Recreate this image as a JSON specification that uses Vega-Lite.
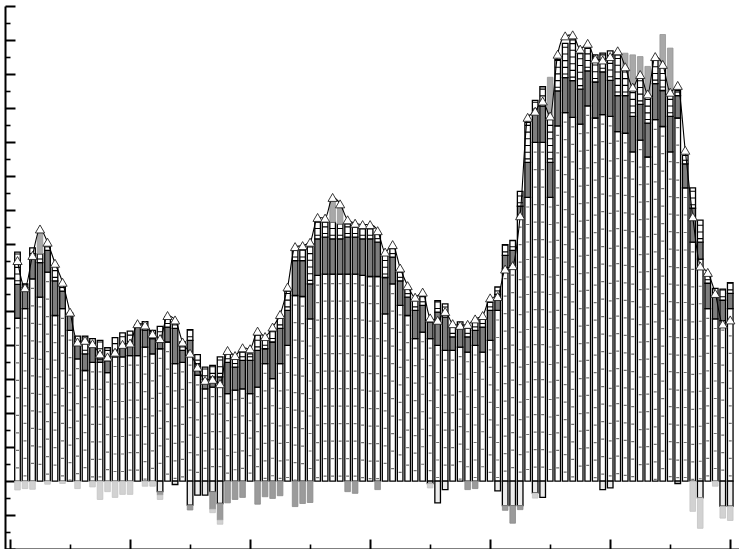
{
  "$schema": "https://vega.github.io/schema/vega-lite/v6.json",
  "width": 734,
  "height": 543,
  "autosize": {"type": "none"},
  "padding": {"left": 5, "top": 6, "right": 0, "bottom": 0},
  "background": "white",
  "config": {"view": {"stroke": null}},
  "data": {"values": [
    {"t":1,"b":4.8,"g":5.8,"w":6.75,"d":6.5,"nb":0,"ng":0,"nl":-0.26},
    {"t":2,"b":5.08,"g":5.7,"w":5.81,"d":5.7,"nb":0,"ng":0,"nl":-0.22},
    {"t":3,"b":5.96,"g":6.6,"w":6.87,"d":6.65,"nb":0,"ng":0,"nl":-0.24},
    {"t":4,"b":5.42,"g":6.44,"w":6.7,"p":7.4,"d":7.43},
    {"t":5,"b":6.16,"g":6.8,"w":6.94,"d":7.04,"nb":0,"ng":0,"nl":-0.09},
    {"t":6,"b":4.88,"g":5.9,"w":6.35,"d":6.42},
    {"t":7,"b":5.08,"g":5.6,"w":5.8,"d":5.86,"nb":0,"ng":0,"nl":-0.07},
    {"t":8,"b":4.44,"g":4.9,"w":4.95,"d":4.98},
    {"t":9,"b":3.6,"g":4.0,"w":4.27,"d":4.1,"nb":0,"ng":0,"nl":-0.22},
    {"t":10,"b":3.26,"g":3.75,"w":4.27,"d":4.15},
    {"t":11,"b":3.5,"g":3.95,"w":4.2,"d":4.05,"nb":0,"ng":0,"nl":-0.17},
    {"t":12,"b":3.5,"g":3.6,"w":4.15,"d":3.75,"nb":0,"ng":0,"nl":-0.54},
    {"t":13,"b":3.2,"g":3.55,"w":3.93,"d":3.66,"nb":0,"ng":0,"nl":-0.31},
    {"t":14,"b":3.66,"g":3.75,"w":4.23,"d":3.8,"nb":0,"ng":0,"nl":-0.48},
    {"t":15,"b":3.66,"g":3.95,"w":4.37,"d":4.03,"nb":0,"ng":0,"nl":-0.39},
    {"t":16,"b":3.7,"g":4.0,"w":4.42,"d":4.07,"nb":0,"ng":0,"nl":-0.39},
    {"t":17,"b":3.7,"g":4.54,"w":4.6,"d":4.64},
    {"t":18,"b":3.95,"g":4.45,"w":4.7,"d":4.6,"nb":0,"ng":0,"nl":-0.15},
    {"t":19,"b":3.75,"g":4.2,"w":4.44,"d":4.34,"nb":0,"ng":0,"nl":-0.15},
    {"t":20,"b":3.9,"g":4.1,"w":4.56,"d":4.2,"nb":-0.31,"ng":-0.41,"nl":-0.54},
    {"t":21,"b":4.1,"g":4.54,"w":4.85,"d":4.88},
    {"t":22,"b":3.46,"g":4.5,"w":4.7,"d":4.75,"nb":-0.1,"ng":-0.1,"nl":-0.1},
    {"t":23,"b":3.5,"g":3.85,"w":4.1,"d":4.1},
    {"t":24,"b":3.7,"g":4.15,"w":4.46,"d":3.77,"nb":-0.71,"ng":-0.85,"nl":-0.85},
    {"t":25,"b":3.12,"g":3.46,"w":3.73,"d":3.36,"nb":-0.41,"ng":-0.41,"nl":-0.41},
    {"t":26,"b":2.72,"g":3.0,"w":3.36,"d":2.97,"nb":-0.41,"ng":-0.41,"nl":-0.41},
    {"t":27,"b":2.77,"g":3.07,"w":3.41,"d":3.0,"nb":-0.31,"ng":-0.83,"nl":-0.93},
    {"t":28,"b":2.77,"g":3.07,"w":3.66,"d":2.87,"nb":-0.66,"ng":-1.15,"nl":-1.27},
    {"t":29,"b":2.58,"g":3.5,"w":3.8,"d":3.85,"nb":0,"ng":-0.64,"nl":-0.64},
    {"t":30,"b":2.68,"g":3.36,"w":3.6,"d":3.7,"nb":0,"ng":-0.54,"nl":-0.54},
    {"t":31,"b":2.72,"g":3.56,"w":3.8,"d":3.93,"nb":0,"ng":-0.48,"nl":-0.48},
    {"t":32,"b":2.58,"g":3.56,"w":3.75,"d":3.9},
    {"t":33,"b":2.77,"g":3.85,"w":4.3,"d":4.42,"nb":0,"ng":-0.68,"nl":-0.68},
    {"t":34,"b":3.46,"g":3.9,"w":4.2,"d":4.26,"nb":0,"ng":-0.46,"nl":-0.46},
    {"t":35,"b":3.02,"g":4.1,"w":4.45,"d":4.54,"nb":0,"ng":-0.51,"nl":-0.51},
    {"t":36,"b":3.46,"g":4.5,"w":4.8,"d":4.91,"nb":0,"ng":-0.43,"nl":-0.43},
    {"t":37,"b":4.0,"g":5.03,"w":5.6,"d":5.72},
    {"t":38,"b":5.47,"g":6.5,"w":6.8,"d":6.91,"nb":0,"ng":-0.75,"nl":-0.75},
    {"t":39,"b":5.44,"g":6.5,"w":6.85,"d":6.94,"nb":0,"ng":-0.66,"nl":-0.66},
    {"t":40,"b":4.78,"g":5.81,"w":7.0,"d":7.04,"nb":0,"ng":-0.63,"nl":-0.63},
    {"t":41,"b":6.06,"g":7.14,"w":7.63,"d":7.77},
    {"t":42,"b":6.1,"g":7.19,"w":7.63,"d":7.75},
    {"t":43,"b":6.1,"g":7.14,"w":7.63,"p":8.25,"d":8.36},
    {"t":44,"b":6.1,"g":7.14,"w":7.58,"p":8.07,"d":8.17},
    {"t":45,"b":6.1,"g":7.19,"w":7.58,"d":7.7,"nb":0,"ng":-0.31,"nl":-0.31},
    {"t":46,"b":6.1,"g":7.19,"w":7.48,"d":7.6,"nb":0,"ng":-0.36,"nl":-0.36},
    {"t":47,"b":6.06,"g":7.14,"w":7.43,"d":7.56},
    {"t":48,"b":6.03,"g":7.14,"w":7.43,"d":7.56},
    {"t":49,"b":6.03,"g":7.04,"w":7.28,"d":7.38,"nb":0,"ng":-0.25,"nl":-0.25},
    {"t":50,"b":4.93,"g":6.0,"w":6.65,"d":6.75},
    {"t":51,"b":5.81,"g":6.6,"w":6.85,"d":6.97},
    {"t":52,"b":5.18,"g":5.9,"w":6.16,"d":6.28},
    {"t":53,"b":4.88,"g":5.42,"w":5.67,"d":5.76},
    {"t":54,"b":4.2,"g":5.03,"w":5.32,"d":5.42},
    {"t":55,"b":4.39,"g":5.18,"w":5.44,"d":5.57},
    {"t":56,"b":4.2,"g":4.69,"w":4.75,"d":4.81,"nb":-0.07,"ng":-0.07,"nl":-0.2},
    {"t":57,"b":4.0,"g":4.98,"w":5.32,"d":4.74,"nb":-0.64,"ng":-0.64,"nl":-0.64},
    {"t":58,"b":3.85,"g":4.83,"w":5.22,"d":5.0,"nb":-0.25,"ng":-0.25,"nl":-0.25},
    {"t":59,"b":3.85,"g":4.25,"w":4.55,"d":4.64},
    {"t":60,"b":3.95,"g":4.5,"w":4.69,"d":4.59},
    {"t":61,"b":3.8,"g":4.25,"w":4.5,"d":4.62,"nb":0,"ng":-0.25,"nl":-0.25},
    {"t":62,"b":4.0,"g":4.44,"w":4.69,"d":4.78,"nb":0,"ng":-0.22,"nl":-0.22},
    {"t":63,"b":3.8,"g":4.54,"w":4.78,"d":4.88},
    {"t":64,"b":4.15,"g":5.03,"w":5.27,"d":5.4},
    {"t":65,"b":5.03,"g":5.5,"w":5.72,"d":5.44,"nb":-0.29,"ng":-0.29,"nl":-0.29},
    {"t":66,"b":6.25,"g":6.65,"w":6.97,"d":6.25,"nb":-0.72,"ng":-0.86,"nl":-0.86},
    {"t":67,"b":6.35,"g":6.8,"w":7.09,"d":6.35,"nb":-0.72,"ng":-1.24,"nl":-1.24},
    {"t":68,"b":7.77,"g":8.1,"w":8.54,"d":7.82,"nb":-0.72,"ng":-0.84,"nl":-0.84},
    {"t":69,"b":8.36,"g":9.39,"w":10.57,"d":10.72},
    {"t":70,"b":9.98,"g":10.86,"w":11.22,"d":10.9,"nb":-0.35,"ng":-0.35,"nl":-0.5},
    {"t":71,"b":9.98,"g":11.05,"w":11.62,"d":11.2,"nb":-0.48,"ng":-0.48,"nl":-0.48},
    {"t":72,"b":8.36,"g":9.39,"w":10.7,"p":11.9,"d":10.76},
    {"t":73,"b":10.47,"g":11.5,"w":12.43,"d":12.58},
    {"t":74,"b":10.86,"g":11.89,"w":12.9,"d":13.12},
    {"t":75,"b":10.72,"g":11.8,"w":13.0,"d":13.15},
    {"t":76,"b":10.52,"g":11.55,"w":12.6,"d":12.73},
    {"t":77,"b":11.06,"g":12.09,"w":12.75,"d":12.9},
    {"t":78,"b":10.7,"g":11.76,"w":12.56,"d":12.44},
    {"t":79,"b":10.8,"g":12.06,"w":12.61,"d":12.41,"nb":-0.25,"ng":-0.25,"nl":-0.25},
    {"t":80,"b":10.75,"g":11.81,"w":12.68,"d":12.51,"nb":-0.2,"ng":-0.2,"nl":-0.2},
    {"t":81,"b":10.3,"g":11.36,"w":12.56,"d":12.68},
    {"t":82,"b":10.25,"g":11.36,"w":12.16,"p":12.61,"d":12.21},
    {"t":83,"b":9.7,"g":10.75,"w":11.56,"p":12.56,"d":11.61},
    {"t":84,"b":10.05,"g":11.1,"w":11.91,"p":12.51,"d":11.98},
    {"t":85,"b":9.55,"g":10.55,"w":11.36,"p":12.22,"d":11.41},
    {"t":86,"b":10.65,"g":11.71,"w":12.41,"d":12.51},
    {"t":87,"b":10.45,"g":11.51,"w":12.21,"p":13.16,"d":12.28},
    {"t":88,"b":9.7,"g":10.75,"w":11.41,"p":12.76,"d":11.46},
    {"t":89,"b":10.7,"g":11.36,"w":11.51,"d":11.66,"nb":-0.07,"ng":-0.07,"nl":-0.07},
    {"t":90,"b":8.64,"g":9.35,"w":9.6,"d":9.75},
    {"t":91,"b":7.04,"g":8.04,"w":8.64,"d":7.79,"nb":0,"ng":0,"nl":-0.89},
    {"t":92,"b":6.54,"g":7.04,"w":7.69,"d":6.34,"nb":-0.49,"ng":-0.49,"nl":-1.39},
    {"t":93,"b":5.08,"g":5.83,"w":6.1,"d":6.15},
    {"t":94,"b":4.78,"g":5.43,"w":5.68,"d":5.53,"nb":0,"ng":0,"nl":-0.15},
    {"t":95,"b":4.73,"g":5.33,"w":5.66,"d":4.63,"nb":-0.74,"ng":-0.74,"nl":-1.09},
    {"t":96,"b":5.08,"g":5.53,"w":5.85,"d":4.75,"nb":-0.74,"ng":-0.74,"nl":-1.16}
  ]},
  "encoding": {
    "x": {
      "field": "t", "type": "quantitative",
      "scale": {"domain": [0, 96.5], "nice": false, "zero": false},
      "axis": {
        "orient": "bottom", "title": null, "labels": false, "grid": false,
        "values": [0, 8, 16, 24, 32, 40, 48, 56, 64, 72, 80, 88, 96],
        "domainColor": "black", "domainWidth": 2,
        "tickColor": "black",
        "tickSize": {"condition": {"test": "datum.value % 16 === 0", "value": -10}, "value": -5},
        "tickWidth": {"condition": {"test": "datum.value % 16 === 0", "value": 2}, "value": 1.6}
      }
    }
  },
  "layer": [
    {
      "mark": {"type": "bar", "width": 5.6, "fill": "white", "stroke": "black", "strokeWidth": 1.3},
      "encoding": {
        "y": {"field": "b", "type": "quantitative", "title": null, "scale": {"domain": [-2, 14], "nice": false, "zero": false},
          "axis": {"title": null, "labels": false, "grid": false, "values": [-2, -1.5, -1, -0.5, 0, 0.5, 1, 1.5, 2, 2.5, 3, 3.5, 4, 4.5, 5, 5.5, 6, 6.5, 7, 7.5, 8, 8.5, 9, 9.5, 10, 10.5, 11, 11.5, 12, 12.5, 13, 13.5, 14], "domainColor": "black", "domainWidth": 2, "tickColor": "black", "tickSize": {"condition": {"test": "datum.value % 1 === 0", "value": -10}, "value": -5}, "tickWidth": {"condition": {"test": "datum.value % 1 === 0", "value": 2}, "value": 1.6}}},
        "y2": {"datum": 0}
      }
    },
    {
      "mark": {"type": "rule", "color": "#707070", "strokeWidth": 3, "strokeDash": [1.2, 16.3], "strokeDashOffset": -9},
      "encoding": {
        "y": {"field": "b", "type": "quantitative", "title": null,
          "axis": {"title": null, "labels": false, "grid": false, "values": [-2, -1.5, -1, -0.5, 0, 0.5, 1, 1.5, 2, 2.5, 3, 3.5, 4, 4.5, 5, 5.5, 6, 6.5, 7, 7.5, 8, 8.5, 9, 9.5, 10, 10.5, 11, 11.5, 12, 12.5, 13, 13.5, 14], "domainColor": "black", "domainWidth": 2, "tickColor": "black", "tickSize": {"condition": {"test": "datum.value % 1 === 0", "value": -10}, "value": -5}, "tickWidth": {"condition": {"test": "datum.value % 1 === 0", "value": 2}, "value": 1.6}}},
        "y2": {"datum": 0}
      }
    },
    {
      "mark": {"type": "bar", "width": 5.6, "fill": "#7e7e7e", "stroke": "black", "strokeWidth": 1.3},
      "encoding": {
        "y": {"field": "g", "type": "quantitative", "title": null,
          "axis": {"title": null, "labels": false, "grid": false, "values": [-2, -1.5, -1, -0.5, 0, 0.5, 1, 1.5, 2, 2.5, 3, 3.5, 4, 4.5, 5, 5.5, 6, 6.5, 7, 7.5, 8, 8.5, 9, 9.5, 10, 10.5, 11, 11.5, 12, 12.5, 13, 13.5, 14], "domainColor": "black", "domainWidth": 2, "tickColor": "black", "tickSize": {"condition": {"test": "datum.value % 1 === 0", "value": -10}, "value": -5}, "tickWidth": {"condition": {"test": "datum.value % 1 === 0", "value": 2}, "value": 1.6}}},
        "y2": {"field": "b"}
      }
    },
    {
      "mark": {"type": "bar", "width": 5.6, "fill": "white", "stroke": "black", "strokeWidth": 1.3},
      "encoding": {
        "y": {"field": "w", "type": "quantitative", "title": null,
          "axis": {"title": null, "labels": false, "grid": false, "values": [-2, -1.5, -1, -0.5, 0, 0.5, 1, 1.5, 2, 2.5, 3, 3.5, 4, 4.5, 5, 5.5, 6, 6.5, 7, 7.5, 8, 8.5, 9, 9.5, 10, 10.5, 11, 11.5, 12, 12.5, 13, 13.5, 14], "domainColor": "black", "domainWidth": 2, "tickColor": "black", "tickSize": {"condition": {"test": "datum.value % 1 === 0", "value": -10}, "value": -5}, "tickWidth": {"condition": {"test": "datum.value % 1 === 0", "value": 2}, "value": 1.6}}},
        "y2": {"field": "g"}
      }
    },
    {
      "mark": {"type": "rule", "color": "black", "strokeWidth": 5.6, "strokeDash": [1.1, 5.6], "strokeDashOffset": -3},
      "encoding": {
        "y": {"field": "g", "type": "quantitative", "title": null,
          "axis": {"title": null, "labels": false, "grid": false, "values": [-2, -1.5, -1, -0.5, 0, 0.5, 1, 1.5, 2, 2.5, 3, 3.5, 4, 4.5, 5, 5.5, 6, 6.5, 7, 7.5, 8, 8.5, 9, 9.5, 10, 10.5, 11, 11.5, 12, 12.5, 13, 13.5, 14], "domainColor": "black", "domainWidth": 2, "tickColor": "black", "tickSize": {"condition": {"test": "datum.value % 1 === 0", "value": -10}, "value": -5}, "tickWidth": {"condition": {"test": "datum.value % 1 === 0", "value": 2}, "value": 1.6}}},
        "y2": {"field": "w"}
      }
    },
    {
      "transform": [{"filter": "isValid(datum.p)"}],
      "mark": {"type": "bar", "width": 5.6, "fill": "#a8a8a8", "stroke": "#969696", "strokeWidth": 0.8},
      "encoding": {
        "y": {"field": "p", "type": "quantitative", "title": null,
          "axis": {"title": null, "labels": false, "grid": false, "values": [-2, -1.5, -1, -0.5, 0, 0.5, 1, 1.5, 2, 2.5, 3, 3.5, 4, 4.5, 5, 5.5, 6, 6.5, 7, 7.5, 8, 8.5, 9, 9.5, 10, 10.5, 11, 11.5, 12, 12.5, 13, 13.5, 14], "domainColor": "black", "domainWidth": 2, "tickColor": "black", "tickSize": {"condition": {"test": "datum.value % 1 === 0", "value": -10}, "value": -5}, "tickWidth": {"condition": {"test": "datum.value % 1 === 0", "value": 2}, "value": 1.6}}},
        "y2": {"field": "w"}
      }
    },
    {
      "transform": [{"filter": "datum.nb < 0"}],
      "mark": {"type": "bar", "width": 5.6, "fill": "#ededed", "stroke": "black", "strokeWidth": 1.3},
      "encoding": {
        "y": {"field": "nb", "type": "quantitative", "title": null,
          "axis": {"title": null, "labels": false, "grid": false, "values": [-2, -1.5, -1, -0.5, 0, 0.5, 1, 1.5, 2, 2.5, 3, 3.5, 4, 4.5, 5, 5.5, 6, 6.5, 7, 7.5, 8, 8.5, 9, 9.5, 10, 10.5, 11, 11.5, 12, 12.5, 13, 13.5, 14], "domainColor": "black", "domainWidth": 2, "tickColor": "black", "tickSize": {"condition": {"test": "datum.value % 1 === 0", "value": -10}, "value": -5}, "tickWidth": {"condition": {"test": "datum.value % 1 === 0", "value": 2}, "value": 1.6}}},
        "y2": {"datum": 0}
      }
    },
    {
      "transform": [{"filter": "datum.ng < datum.nb"}],
      "mark": {"type": "bar", "width": 5.6, "fill": "#9b9b9b", "stroke": "#8a8a8a", "strokeWidth": 0.8},
      "encoding": {
        "y": {"field": "ng", "type": "quantitative", "title": null,
          "axis": {"title": null, "labels": false, "grid": false, "values": [-2, -1.5, -1, -0.5, 0, 0.5, 1, 1.5, 2, 2.5, 3, 3.5, 4, 4.5, 5, 5.5, 6, 6.5, 7, 7.5, 8, 8.5, 9, 9.5, 10, 10.5, 11, 11.5, 12, 12.5, 13, 13.5, 14], "domainColor": "black", "domainWidth": 2, "tickColor": "black", "tickSize": {"condition": {"test": "datum.value % 1 === 0", "value": -10}, "value": -5}, "tickWidth": {"condition": {"test": "datum.value % 1 === 0", "value": 2}, "value": 1.6}}},
        "y2": {"field": "nb"}
      }
    },
    {
      "transform": [{"filter": "datum.nl < datum.ng"}],
      "mark": {"type": "bar", "width": 5.6, "fill": "#d2d2d2", "stroke": "#c4c4c4", "strokeWidth": 0.8},
      "encoding": {
        "y": {"field": "nl", "type": "quantitative", "title": null,
          "axis": {"title": null, "labels": false, "grid": false, "values": [-2, -1.5, -1, -0.5, 0, 0.5, 1, 1.5, 2, 2.5, 3, 3.5, 4, 4.5, 5, 5.5, 6, 6.5, 7, 7.5, 8, 8.5, 9, 9.5, 10, 10.5, 11, 11.5, 12, 12.5, 13, 13.5, 14], "domainColor": "black", "domainWidth": 2, "tickColor": "black", "tickSize": {"condition": {"test": "datum.value % 1 === 0", "value": -10}, "value": -5}, "tickWidth": {"condition": {"test": "datum.value % 1 === 0", "value": 2}, "value": 1.6}}},
        "y2": {"field": "ng"}
      }
    },
    {
      "mark": {"type": "line", "color": "black", "strokeWidth": 1.1, "interpolate": "monotone"},
      "encoding": {
        "y": {"field": "d", "type": "quantitative", "title": null,
          "axis": {"title": null, "labels": false, "grid": false, "values": [-2, -1.5, -1, -0.5, 0, 0.5, 1, 1.5, 2, 2.5, 3, 3.5, 4, 4.5, 5, 5.5, 6, 6.5, 7, 7.5, 8, 8.5, 9, 9.5, 10, 10.5, 11, 11.5, 12, 12.5, 13, 13.5, 14], "domainColor": "black", "domainWidth": 2, "tickColor": "black", "tickSize": {"condition": {"test": "datum.value % 1 === 0", "value": -10}, "value": -5}, "tickWidth": {"condition": {"test": "datum.value % 1 === 0", "value": 2}, "value": 1.6}}}
      }
    },
    {
      "mark": {"type": "point", "shape": "triangle-up", "size": 85, "filled": true, "fill": "white", "stroke": "#222222", "strokeWidth": 0.9, "opacity": 1},
      "encoding": {
        "y": {"field": "d", "type": "quantitative", "title": null,
          "axis": {"title": null, "labels": false, "grid": false, "values": [-2, -1.5, -1, -0.5, 0, 0.5, 1, 1.5, 2, 2.5, 3, 3.5, 4, 4.5, 5, 5.5, 6, 6.5, 7, 7.5, 8, 8.5, 9, 9.5, 10, 10.5, 11, 11.5, 12, 12.5, 13, 13.5, 14], "domainColor": "black", "domainWidth": 2, "tickColor": "black", "tickSize": {"condition": {"test": "datum.value % 1 === 0", "value": -10}, "value": -5}, "tickWidth": {"condition": {"test": "datum.value % 1 === 0", "value": 2}, "value": 1.6}}}
      }
    }
  ]
}
